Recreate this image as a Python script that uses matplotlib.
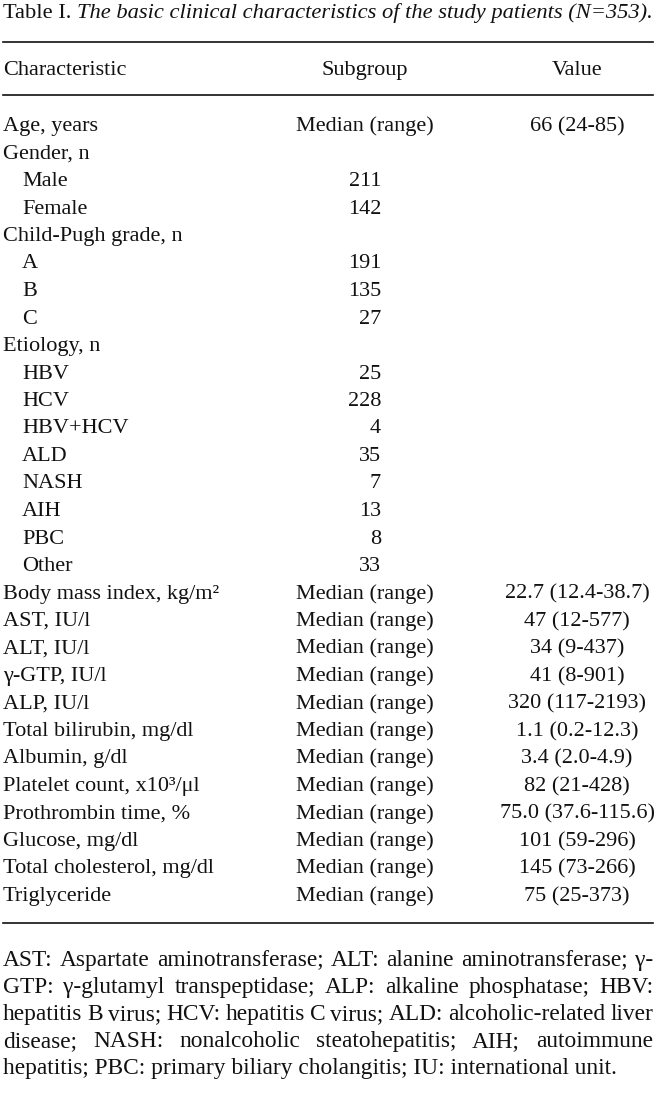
import matplotlib
matplotlib.use('Agg')
import matplotlib.pyplot as plt
from matplotlib.lines import Line2D

# ---------------- data ----------------
title_regular = "Table I. "
title_italic = "The basic clinical characteristics of the study patients (N=353)."
headers = ["Characteristic", "Subgroup", "Value"]

characteristics = [
    "Age, years", "Gender, n", "Male", "Female", "Child-Pugh grade, n", "A", "B", "C",
    "Etiology, n", "HBV", "HCV", "HBV+HCV", "ALD", "NASH", "AIH", "PBC", "Other",
    "Body mass index, kg/m\u00b2", "AST, IU/l", "ALT, IU/l", "\u03b3-GTP, IU/l", "ALP, IU/l",
    "Total bilirubin, mg/dl", "Albumin, g/dl", "Platelet count, x10\u00b3/\u03bcl",
    "Prothrombin time, %", "Glucose, mg/dl", "Total cholesterol, mg/dl", "Triglyceride",
]
indented = [False, False, True, True, False, True, True, True,
            False, True, True, True, True, True, True, True, True,
            False, False, False, False, False, False, False, False,
            False, False, False, False]
subgroups = [
    "Median (range)", "", "211", "142", "", "191", "135", "27",
    "", "25", "228", "4", "35", "7", "13", "8", "33",
    "Median (range)", "Median (range)", "Median (range)", "Median (range)", "Median (range)",
    "Median (range)", "Median (range)", "Median (range)", "Median (range)", "Median (range)",
    "Median (range)", "Median (range)",
]
values = [
    "66 (24-85)", "", "", "", "", "", "", "",
    "", "", "", "", "", "", "", "", "",
    "22.7 (12.4-38.7)", "47 (12-577)", "34 (9-437)", "41 (8-901)", "320 (117-2193)",
    "1.1 (0.2-12.3)", "3.4 (2.0-4.9)", "82 (21-428)", "75.0 (37.6-115.6)", "101 (59-296)",
    "145 (73-266)", "75 (25-373)",
]
footnote_lines = [
    "AST: Aspartate aminotransferase; ALT: alanine aminotransferase; \u03b3-",
    "GTP: \u03b3-glutamyl transpeptidase; ALP: alkaline phosphatase; HBV:",
    "hepatitis B virus; HCV: hepatitis C virus; ALD: alcoholic-related liver",
    "disease; NASH: nonalcoholic steatohepatitis; AIH; autoimmune",
    "hepatitis; PBC: primary biliary cholangitis; IU: international unit.",
]

# ---------------- layout ----------------
W, H = 671, 1097
plt.rcParams['font.family'] = ['Liberation Serif', 'DejaVu Serif']
FS = 16
FS_TITLE = 16.2
FS_NOTE = 16.8
fig = plt.figure(figsize=(W / 100, H / 100), dpi=100)
fig.patch.set_facecolor('white')
renderer = fig.canvas.get_renderer()

LEFT, RIGHT = 3, 653
X_IND = 22
X_SUB_C = 365
X_NUM_R = 381
X_VAL_C = 577
INK = '#111111'


def T(x, y, s, **kw):
    return fig.text(x / W, 1 - y / H, s, fontsize=kw.pop('fontsize', FS),
                    va=kw.pop('va', 'baseline'), color=INK, **kw)


def wid(t):
    return t.get_window_extent(renderer).width


def hline(y, lw=1.2):
    fig.add_artist(Line2D([LEFT / W, RIGHT / W], [1 - y / H, 1 - y / H],
                          lw=lw, color=INK))


# title
t1 = T(LEFT, 18, title_regular, fontsize=FS_TITLE)
T(LEFT + wid(t1), 18, title_italic, style='italic', fontsize=FS_TITLE)

hline(42)
T(LEFT, 75, headers[0])
T(X_SUB_C, 75, headers[1], ha='center')
T(X_VAL_C, 75, headers[2], ha='center')
hline(95)

Y0, DY = 131, 27.5
for i, (c, ind, s, v) in enumerate(zip(characteristics, indented, subgroups, values)):
    y = Y0 + i * DY
    T(X_IND if ind else LEFT, y, c)
    if s:
        if s.startswith("Median"):
            T(X_SUB_C, y, s, ha='center')
        else:
            T(X_NUM_R, y, s, ha='right')
    if v:
        T(X_VAL_C, y, v, ha='center')

hline(923)

# justified footnote
FY0, FDY = 966, 27
for k, line in enumerate(footnote_lines):
    y = FY0 + k * FDY
    words = line.split(' ')
    if k == len(footnote_lines) - 1:
        T(LEFT, y, line, fontsize=FS_NOTE)
        continue
    arts = [T(0, y, w, fontsize=FS_NOTE) for w in words]
    widths = [wid(a) for a in arts]
    gap = max((RIGHT - LEFT - sum(widths)) / (len(words) - 1), 3.0)
    x = LEFT
    for a, w in zip(arts, widths):
        a.set_x(x / W)
        x += w + gap

fig.savefig('out.png', dpi=100, facecolor='white')
